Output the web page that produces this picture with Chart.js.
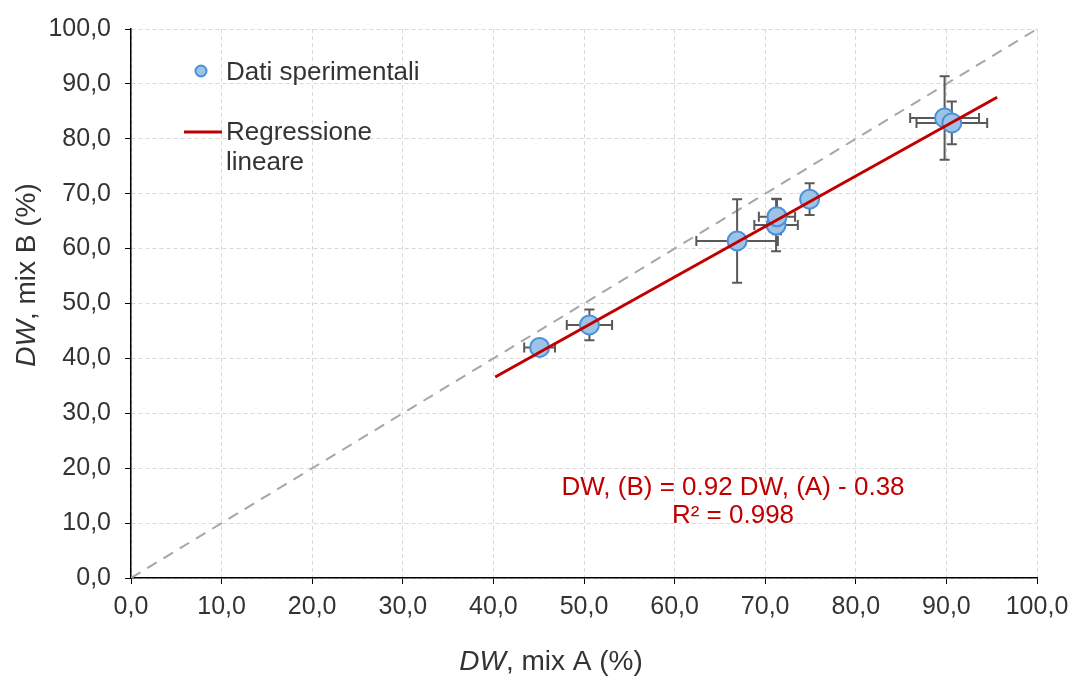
<!DOCTYPE html>
<html>
<head>
<meta charset="utf-8">
<script src="https://cdn.jsdelivr.net/npm/chart.js@4"></script>
<style>
  html, body { margin: 0; padding: 0; background: #fff; }
  #wrap { width: 1074px; height: 679px; }
</style>
</head>
<body>
<div id="wrap"><canvas id="chart" width="1074" height="679"></canvas></div>
<script>
// Experimental points: DW mix A (x) vs DW mix B (y), with error bars
const dwMixA = [45.1, 50.6, 66.9, 71.2, 71.3, 74.9, 89.8, 90.6];
const dwMixB = [42.0, 46.1, 61.4, 64.3, 65.8, 69.0, 83.8, 82.9];
const errMixA = [1.7, 2.5, 4.5, 2.4, 2.0, 0.8, 3.8, 3.9];
const errMixB = [0.8, 2.8, 7.6, 4.8, 3.2, 2.9, 7.6, 3.9];

// Linear regression and the 1:1 reference line
const regressionX = [40.2, 95.6];
const slope = 0.92;
const intercept = -0.38;
const identityX = [0, 100];

const axisTicks = [0, 10, 20, 30, 40, 50, 60, 70, 80, 90, 100];
const legendLabels = ["Dati sperimentali", ["Regressione", "lineare"]];
const equationLines = ["DW, (B) = 0.92 DW, (A) - 0.38", "R² = 0.998"];

const FONT = "'Liberation Sans', Arial, sans-serif";
const TEXT = "#333333";
const RED = "#c00000";

const fmt = (v) => v.toFixed(1).replace(".", ",");

// Draw error bars right before the scatter dataset so markers sit on top
const errorBars = {
  id: "errorBars",
  beforeDatasetDraw(chart, args) {
    if (args.index !== 2) return;
    const { ctx, scales: { x, y } } = chart;
    const cap = 5;
    ctx.save();
    ctx.strokeStyle = "#595959";
    ctx.lineWidth = 2;
    dwMixA.forEach((xv, i) => {
      const yv = dwMixB[i];
      const px = x.getPixelForValue(xv);
      const py = y.getPixelForValue(yv);
      const x0 = x.getPixelForValue(xv - errMixA[i]);
      const x1 = x.getPixelForValue(xv + errMixA[i]);
      const y0 = y.getPixelForValue(yv - errMixB[i]);
      const y1 = y.getPixelForValue(yv + errMixB[i]);
      ctx.beginPath();
      ctx.moveTo(x0, py); ctx.lineTo(x1, py);
      ctx.moveTo(x0, py - cap); ctx.lineTo(x0, py + cap);
      ctx.moveTo(x1, py - cap); ctx.lineTo(x1, py + cap);
      ctx.moveTo(px, y0); ctx.lineTo(px, y1);
      ctx.moveTo(px - cap, y0); ctx.lineTo(px + cap, y0);
      ctx.moveTo(px - cap, y1); ctx.lineTo(px + cap, y1);
      ctx.stroke();
    });
    ctx.restore();
  },
};

// Axis titles (italic "DW"), legend and equation text
const annotations = {
  id: "annotations",
  afterDraw(chart) {
    const { ctx } = chart;
    ctx.save();
    ctx.textBaseline = "middle";

    // mixed-style axis title helper
    const title = (parts, cx, cy, rotate) => {
      ctx.save();
      ctx.translate(cx, cy);
      if (rotate) ctx.rotate(-Math.PI / 2);
      let total = 0;
      parts.forEach((p) => { ctx.font = p.font; total += ctx.measureText(p.text).width; });
      let cur = -total / 2;
      ctx.fillStyle = TEXT;
      ctx.textAlign = "left";
      parts.forEach((p) => {
        ctx.font = p.font;
        ctx.fillText(p.text, cur, 0);
        cur += ctx.measureText(p.text).width;
      });
      ctx.restore();
    };
    const it = "italic 28px " + FONT;
    const rg = "28px " + FONT;
    title([{ text: "DW", font: it }, { text: ", mix A (%)", font: rg }], 551, 662, false);
    title([{ text: "DW", font: it }, { text: ", mix B (%)", font: rg }], 27, 275, true);

    // legend
    ctx.font = "26px " + FONT;
    ctx.textAlign = "left";
    ctx.beginPath();
    ctx.arc(201, 71, 5.5, 0, Math.PI * 2);
    ctx.fillStyle = "#9dc3e6";
    ctx.fill();
    ctx.lineWidth = 2;
    ctx.strokeStyle = "#4a90d9";
    ctx.stroke();
    ctx.fillStyle = TEXT;
    ctx.fillText(legendLabels[0], 226, 73);
    ctx.beginPath();
    ctx.moveTo(184, 132); ctx.lineTo(222, 132);
    ctx.strokeStyle = RED;
    ctx.lineWidth = 3;
    ctx.stroke();
    ctx.fillText(legendLabels[1][0], 226, 133);
    ctx.fillText(legendLabels[1][1], 226, 163);

    // regression equation
    ctx.fillStyle = RED;
    ctx.textAlign = "center";
    ctx.font = "26px " + FONT;
    ctx.fillText(equationLines[0], 733, 488);
    ctx.fillText(equationLines[1], 733, 516);
    ctx.restore();
  },
};

const gridOpts = {
  color: "#d9d9d9",
  lineWidth: 1,
  tickColor: "#000",
  tickLength: 6,
  tickBorderDash: [],
  drawTicks: true,
};

new Chart(document.getElementById("chart"), {
  type: "scatter",
  data: {
    datasets: [
      {
        label: "Regressione lineare",
        type: "line",
        data: regressionX.map((v) => ({ x: v, y: slope * v + intercept })),
        borderColor: RED,
        borderWidth: 3,
        pointRadius: 0,
        order: 0,
      },
      {
        label: "1:1",
        type: "line",
        data: identityX.map((v) => ({ x: v, y: v })),
        borderColor: "#a6a6a6",
        borderWidth: 2,
        borderDash: [11, 8],
        pointRadius: 0,
        order: 3,
      },
      {
        label: "Dati sperimentali",
        data: dwMixA.map((v, i) => ({ x: v, y: dwMixB[i] })),
        backgroundColor: "#9dc3e6",
        borderColor: "#4a90d9",
        borderWidth: 2,
        pointRadius: 9.5,
        order: 1,
      },
    ],
  },
  options: {
    responsive: false,
    animation: false,
    layout: { padding: { left: 0, top: 29, right: 37, bottom: 0 } },
    plugins: { legend: { display: false }, tooltip: { enabled: false } },
    scales: {
      x: {
        type: "linear",
        min: 0,
        max: 100,
        afterBuildTicks: (s) => { s.ticks = axisTicks.map((v) => ({ value: v })); },
        afterFit: (s) => { s.height = 101; s.paddingLeft = 0; s.paddingRight = 0; },
        ticks: { callback: fmt, font: { family: FONT, size: 25 }, color: TEXT, padding: 8, maxRotation: 0 },
        grid: gridOpts,
        border: { display: true, color: "#000", width: 1.5, dash: [4, 3] },
      },
      y: {
        type: "linear",
        min: 0,
        max: 100,
        afterBuildTicks: (s) => { s.ticks = axisTicks.map((v) => ({ value: v })); },
        afterFit: (s) => { s.width = 131; s.paddingTop = 0; s.paddingBottom = 0; },
        ticks: { callback: fmt, font: { family: FONT, size: 25 }, color: TEXT, padding: 14 },
        grid: gridOpts,
        border: { display: true, color: "#000", width: 1.5, dash: [4, 3] },
      },
    },
  },
  plugins: [errorBars, annotations],
});
</script>
</body>
</html>
